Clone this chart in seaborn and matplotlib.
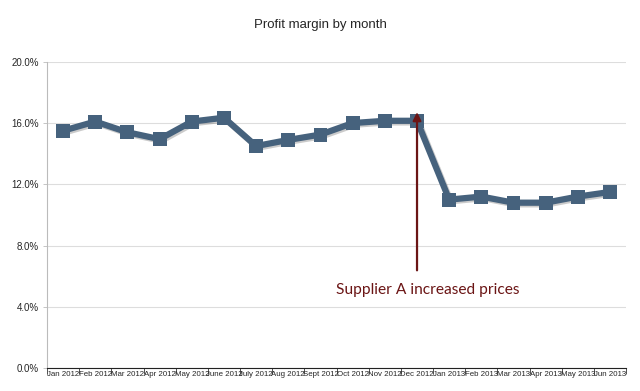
import matplotlib
matplotlib.use("Agg")
import matplotlib.pyplot as plt
import matplotlib.patheffects as pe
from matplotlib.ticker import FuncFormatter, MultipleLocator
import pandas as pd
import seaborn as sns

months = ["Jan 2012", "Feb 2012", "Mar 2012", "Apr 2012", "May 2012", "June 2012",
          "July 2012", "Aug 2012", "Sept 2012", "Oct 2012", "Nov 2012", "Dec 2012",
          "Jan 2013", "Feb 2013", "Mar 2013", "Apr 2013", "May 2013", "Jun 2013"]
margin = [15.5, 16.1, 15.4, 14.95, 16.1, 16.35, 14.5, 14.9, 15.25, 16.0, 16.15, 16.15,
          11.0, 11.2, 10.8, 10.8, 11.2, 11.5]

annotation_text = "Supplier A increased prices"
annotation_month = "Dec 2012"

df = pd.DataFrame({"pos": range(len(months)), "month": months, "margin": margin})

sns.set_theme(style="white")
plt.rcParams["font.family"] = ["Liberation Sans", "DejaVu Sans"]

fig = plt.figure(figsize=(6.4, 3.91), dpi=100)
ax = fig.add_axes([0.0734, 0.0588, 0.905, 0.783])

line_color = "#46627d"
shadow = [pe.SimpleLineShadow(offset=(1.2, -1.2), alpha=0.25, shadow_color="#333333"), pe.Normal()]
sns.lineplot(data=df, x="pos", y="margin", ax=ax, color=line_color, linewidth=4.5,
             marker="s", markersize=10, markeredgewidth=0, path_effects=shadow)

ax.set_xlim(-0.5, len(months) - 0.5)
ax.set_ylim(0, 20)
ax.yaxis.set_major_locator(MultipleLocator(4))
ax.yaxis.set_major_formatter(FuncFormatter(lambda v, p: f"{v:.1f}%"))
ax.set_xticks(df["pos"])
ax.set_xticklabels(months)
ax.set_xticks([i - 0.5 for i in range(len(months) + 1)], minor=True)
ax.tick_params(axis="x", which="major", length=0, labelsize=5.7, pad=2)
ax.tick_params(axis="x", which="minor", length=4, width=0.6, color="#333333", direction="out", bottom=True)
ax.tick_params(axis="y", length=3, width=0.6, color="#bbbbbb", labelsize=7, pad=3, left=True)
ax.grid(axis="y", color="#dddddd", linewidth=0.8)
ax.set_axisbelow(True)
ax.set_xlabel("")
ax.set_ylabel("")
for s in ["top", "right"]:
    ax.spines[s].set_visible(False)
ax.spines["left"].set_color("#bbbbbb")
ax.spines["left"].set_linewidth(0.8)
ax.spines["bottom"].set_color("#222222")
ax.spines["bottom"].set_linewidth(0.8)

xi = months.index(annotation_month)
ax.annotate("", xy=(xi, 16.9), xytext=(xi, 6.2),
            arrowprops=dict(arrowstyle="-|>", color="#6b1515", lw=1.6, mutation_scale=12))
ax.text(xi + 0.34, 5.1, annotation_text, color="#6b1515", fontsize=11.2,
        family=["Lato", "DejaVu Sans"], ha="center", va="center")

fig.text(0.5, 0.935, "Profit margin by month", ha="center", va="center", fontsize=9.5)

fig.savefig("out.png", dpi=100)
